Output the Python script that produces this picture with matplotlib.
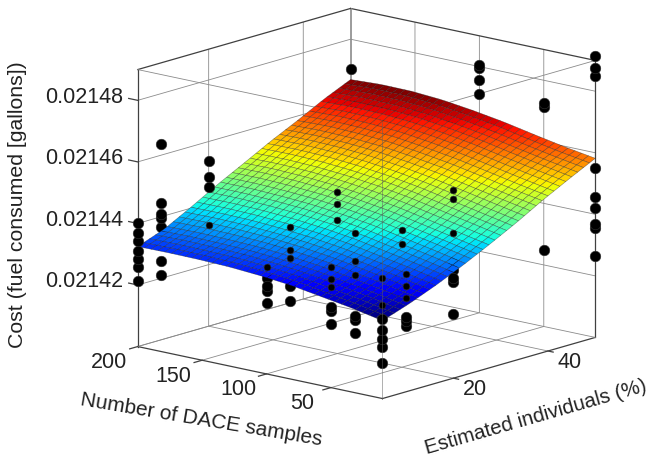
import numpy as np
import matplotlib
matplotlib.use('Agg')
import matplotlib.pyplot as plt
from mpl_toolkits.mplot3d import proj3d

plt.rcParams['font.family'] = ['Liberation Sans', 'DejaVu Sans']
plt.rcParams['grid.color'] = '#8c8c8c'
plt.rcParams['grid.linewidth'] = 0.6

# all z values below are in units of 1e-5 gallons
x_lim = [5, 50]
y_lim = [10, 200]
z_lim = [2140, 2149]

x_ticks = [20, 40]
y_ticks = [50, 100, 150, 200]
z_ticks = [2142, 2144, 2146, 2148]
x_tick_labels = ['20', '40']
y_tick_labels = ['50', '100', '150', '200']
z_tick_labels = ['0.02142', '0.02144', '0.02146', '0.02148']

# surface heights read at knots, rows follow samples, columns follow individuals
knot_x = [5, 10.625, 16.25, 21.875, 27.5, 33.125, 38.75, 44.375, 50]
knot_y = [10, 33.75, 57.5, 81.25, 105, 128.75, 152.5, 176.25, 200]
knot_z = [
    [2142.53, 2142.83, 2143.18, 2143.57, 2144.00, 2144.45, 2144.94, 2145.39, 2145.82],
    [2142.73, 2143.02, 2143.38, 2143.78, 2144.20, 2144.65, 2145.12, 2145.57, 2145.98],
    [2142.89, 2143.19, 2143.56, 2143.97, 2144.40, 2144.85, 2145.32, 2145.76, 2146.17],
    [2143.05, 2143.35, 2143.74, 2144.17, 2144.60, 2145.05, 2145.51, 2145.96, 2146.37],
    [2143.15, 2143.46, 2143.87, 2144.31, 2144.75, 2145.21, 2145.66, 2146.12, 2146.53],
    [2143.22, 2143.54, 2143.96, 2144.42, 2144.87, 2145.33, 2145.79, 2146.25, 2146.66],
    [2143.25, 2143.57, 2144.02, 2144.48, 2144.94, 2145.41, 2145.85, 2146.32, 2146.73],
    [2143.26, 2143.59, 2144.04, 2144.52, 2144.98, 2145.44, 2145.88, 2146.34, 2146.74],
    [2143.25, 2143.57, 2144.03, 2144.52, 2144.97, 2145.43, 2145.85, 2146.30, 2146.69],
]

# dots in front of the surface
over_cols_x = [5, 10, 20, 50, 50, 50, 50, 5, 10, 5, 10, 5, 10, 20]
over_cols_y = [200, 200, 200, 200, 100, 50, 10, 100, 100, 50, 50, 10, 10, 10]
over_counts = [7, 6, 3, 1, 4, 3, 9, 3, 1, 3, 3, 5, 3, 3]
over_z = [2144.03, 2143.70, 2143.44, 2143.12, 2142.86, 2142.60, 2142.14,
          2146.37, 2144.43, 2144.10, 2143.94, 2142.57, 2142.12,
          2145.38, 2144.84, 2144.52,
          2147.02,
          2148.04, 2147.94, 2147.58, 2147.10,
          2147.25, 2147.12, 2142.47,
          2149.16, 2148.74, 2148.48, 2145.49, 2144.55, 2144.22, 2143.70, 2143.57, 2142.66,
          2142.87, 2142.71, 2142.29,
          2142.16,
          2142.08, 2142.50, 2142.63,
          2141.54, 2142.12, 2141.99,
          2142.57, 2142.24, 2141.95, 2141.66, 2141.14,
          2142.44, 2142.31, 2142.15,
          2143.27, 2143.11, 2142.07]

# dots cut off by the lower edge of the surface
under_cols_x = [10, 10, 5, 20]
under_cols_y = [200, 100, 100, 10]
under_counts = [1, 1, 1, 2]
under_z = [2143.68, 2142.65, 2143.13, 2143.76, 2143.53]

# dots that only just poke through the surface
sliver_cols_x = [20, 5, 10, 5, 10, 20, 5, 10, 20, 20]
sliver_cols_y = [200, 100, 100, 50, 50, 100, 10, 10, 50, 10]
sliver_counts = [1, 1, 3, 3, 3, 3, 2, 3, 2, 3]
sliver_z = [2143.30,
            2143.46,
            2144.54, 2143.79, 2143.53,
            2143.93, 2143.54, 2143.28,
            2143.88, 2143.45, 2144.79,
            2145.26, 2144.87, 2144.35,
            2143.93, 2143.05,
            2143.84, 2143.42, 2143.06,
            2144.47, 2144.02,
            2146.10, 2145.81, 2144.73]

fig = plt.figure(figsize=(6.49, 4.57), dpi=100)
ax = fig.add_axes([58.4 / 649, -54.6 / 457, 600 / 649, 600 / 457], projection='3d')
ax.set_proj_type('ortho')
ax.set_box_aspect((326.6, 323, 286), zoom=0.875)
ax.view_init(elev=14.3, azim=-139.3)
ax.computed_zorder = False
ax.patch.set_alpha(0)

ax.set_xlim(x_lim)
ax.set_ylim(y_lim)
ax.set_zlim(z_lim)

# each read patch is split so the colours grade like the original mesh
cells = 36
x_fine = np.linspace(x_lim[0], x_lim[1], cells + 1)
y_fine = np.linspace(y_lim[0], y_lim[1], cells + 1)
by_x = np.array([np.interp(x_fine, knot_x, row) for row in knot_z])
z_fine = np.array([np.interp(y_fine, knot_y, col) for col in by_x.T]).T
X, Y = np.meshgrid(x_fine, y_fine)


def draw_dots(cols_x, cols_y, counts, z, size, order):
    ax.scatter(np.repeat(cols_x, counts), np.repeat(cols_y, counts), z, s=size,
               c='black', edgecolors='#333333', linewidths=0.4, depthshade=False, zorder=order)


def label_at(x, y, z, label, ha):
    # flat text at the projected spot of a 3d point
    px, py, _ = proj3d.proj_transform(x, y, z, ax.get_proj())
    ax.text2D(px, py, label, transform=ax.transData, ha=ha, va='center',
              fontsize=15.5, color='#222222')


draw_dots(under_cols_x, under_cols_y, under_counts, under_z, 58, 2)
ax.plot_surface(X, Y, z_fine, cmap='jet', rcount=cells + 1, ccount=cells + 1, shade=False,
                edgecolor=(0.1, 0.1, 0.1, 0.5), linewidth=0.4, antialiased=True, zorder=3)
draw_dots(sliver_cols_x, sliver_cols_y, sliver_counts, sliver_z, 24, 4)
draw_dots(over_cols_x, over_cols_y, over_counts, over_z, 58, 4)

# box edges
x0, x1 = x_lim
y0, y1 = y_lim
z0, z1 = z_lim
dark = '#404040'
light = '#8a8a8a'
ax.plot([x0, x0], [y1, y1], [z0, z1], color=dark, lw=0.9, zorder=1)
ax.plot([x1, x1], [y0, y0], [z0, z1], color=dark, lw=0.9, zorder=1)
ax.plot([x0, x1], [y1, y1], [z1, z1], color=dark, lw=0.9, zorder=1)
ax.plot([x1, x1], [y0, y1], [z1, z1], color=dark, lw=0.9, zorder=1)
ax.plot([x0, x1], [y0, y0], [z0, z0], color=dark, lw=0.9, zorder=1)
ax.plot([x0, x0], [y0, y1], [z0, z0], color=dark, lw=0.9, zorder=1)
ax.plot([x1, x1], [y1, y1], [z0, z1], color=light, lw=0.6, zorder=1)
ax.plot([x0, x1], [y1, y1], [z0, z0], color=light, lw=0.6, zorder=1)
ax.plot([x1, x1], [y0, y1], [z0, z0], color=light, lw=0.6, zorder=1)
ax.plot([x0, x0], [y0, y1], [z1, z1], color=light, lw=0.6, zorder=1)
ax.plot([x0, x1], [y0, y0], [z1, z1], color=light, lw=0.6, zorder=1)
ax.plot([x0, x0], [y0, y0], [z0, z1], color='#606060', lw=0.5, alpha=0.7, zorder=5)

ax.set_xticks(x_ticks)
ax.set_yticks(y_ticks)
ax.set_zticks(z_ticks)

for axis in (ax.xaxis, ax.yaxis, ax.zaxis):
    axis.set_pane_color((1, 1, 1, 0))
    axis.pane.set_edgecolor((1, 1, 1, 0))
    axis.line.set_color((1, 1, 1, 0))
    axis._axinfo['tick']['inward_factor'] = 0
    axis._axinfo['tick']['outward_factor'] = 0
    for tick in axis.get_major_ticks():
        tick.label1.set_visible(False)

# ticks and their labels sit where the original viewer put them
for x, label in zip(x_ticks, x_tick_labels):
    ax.plot([x, x], [y0, y0 - 4], [z0, z0], color=dark, lw=0.9, zorder=1)
    label_at(x, y0 - 17, z0 - 0.22, label, 'center')
for y, label in zip(y_ticks, y_tick_labels):
    ax.plot([x0, x0 - 1.7], [y, y], [z0, z0], color=dark, lw=0.9, zorder=1)
    label_at(x0 - 6, y, z0 - 0.25, label, 'center')
for z, label in zip(z_ticks, z_tick_labels):
    ax.plot([x0, x0], [y1, y1 + 7], [z, z], color=dark, lw=0.9, zorder=1)
    label_at(x0, y1 + 11, z, label, 'right')

fig.text(18 / 649, 1 - 205 / 457, 'Cost (fuel consumed [gallons])', rotation=90, fontsize=15.3,
         color='#222222', ha='center', va='center')
fig.text(201 / 649, 1 - 420 / 457, 'Number of DACE samples', rotation=-9.5, fontsize=15,
         color='#222222', ha='center', va='center', rotation_mode='anchor')
fig.text(536 / 649, 1 - 417 / 457, 'Estimated individuals (%)', rotation=16, fontsize=14.8,
         color='#222222', ha='center', va='center', rotation_mode='anchor')

fig.savefig('out.png', dpi=100)
